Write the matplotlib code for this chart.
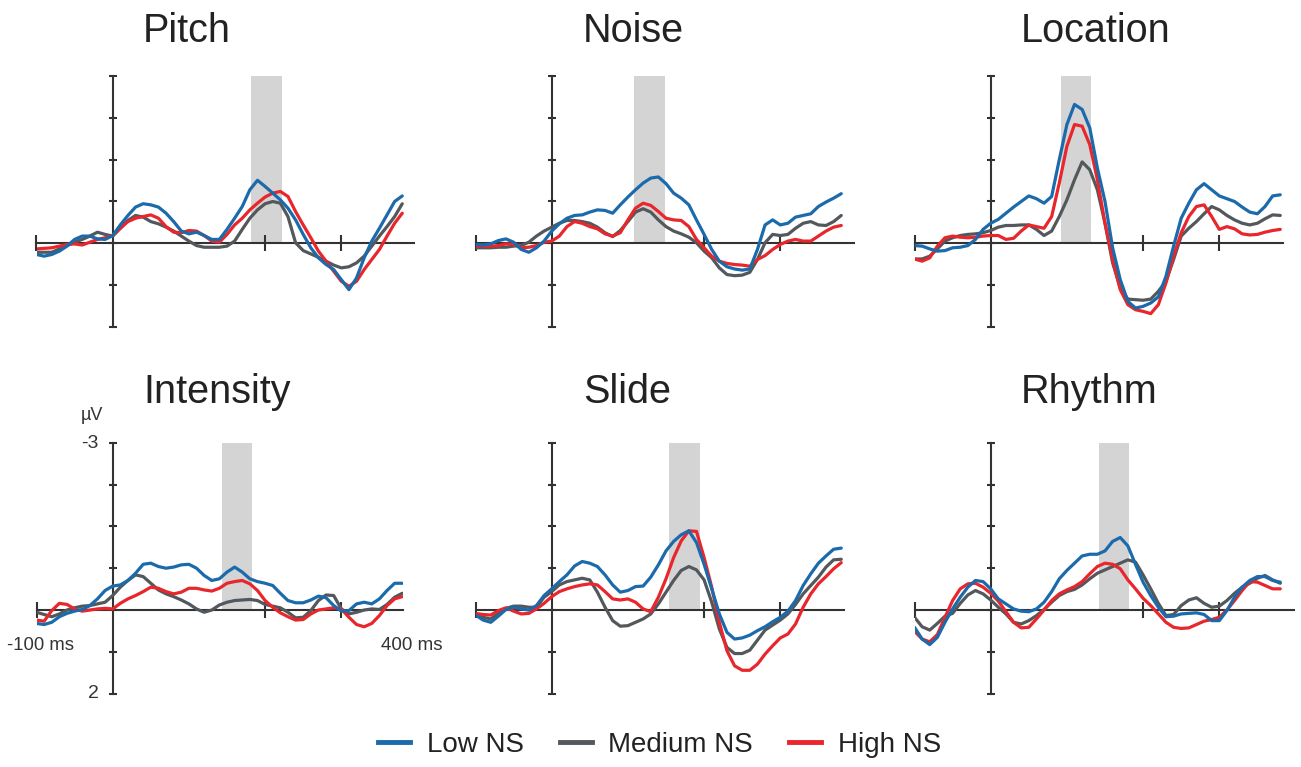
import matplotlib
matplotlib.use('Agg')
import matplotlib.pyplot as plt
from matplotlib.lines import Line2D

plt.rcParams['font.family'] = ['Liberation Sans', 'DejaVu Sans']

# ---------------- data ----------------
time_ms = list(range(-100, 381, 10))

conditions = ['Low NS', 'Medium NS', 'High NS']
panel_titles = ['Pitch', 'Noise', 'Location', 'Intensity', 'Slide', 'Rhythm']

# shaded analysis windows (ms)
windows = [(181, 222), (108, 149), (92, 132), (143, 183), (154, 194), (142, 182)]

# amplitudes in microvolts (negative plotted upward)
pitch_low = [0.20, 0.23, 0.20, 0.14, 0.05, -0.07, -0.13, -0.13, -0.08, -0.07,
             -0.14, -0.33, -0.50, -0.65, -0.71, -0.69, -0.65, -0.54, -0.39, -0.22,
             -0.17, -0.20, -0.14, -0.07, -0.07, -0.25, -0.45, -0.66, -0.96, -1.13,
             -1.02, -0.90, -0.78, -0.63, -0.42, -0.16, 0.08, 0.26, 0.38, 0.47,
             0.65, 0.83, 0.62, 0.26, -0.04, -0.27, -0.51, -0.75, -0.85]
pitch_med = [0.16, 0.16, 0.16, 0.10, 0.04, -0.02, -0.07, -0.13, -0.20, -0.16,
             -0.13, -0.27, -0.41, -0.50, -0.47, -0.39, -0.35, -0.29, -0.22, -0.13,
             -0.04, 0.04, 0.07, 0.07, 0.07, 0.05, -0.04, -0.25, -0.45, -0.60,
             -0.71, -0.75, -0.72, -0.48, -0.01, 0.13, 0.19, 0.25, 0.32, 0.39,
             0.44, 0.42, 0.35, 0.23, 0.05, -0.13, -0.30, -0.48, -0.71]
pitch_high = [0.10, 0.09, 0.08, 0.05, 0.02, 0.01, 0.03, -0.02, -0.07, -0.10,
              -0.14, -0.27, -0.39, -0.45, -0.48, -0.51, -0.45, -0.30, -0.20, -0.19,
              -0.23, -0.22, -0.14, -0.04, -0.02, -0.16, -0.33, -0.45, -0.60, -0.72,
              -0.83, -0.90, -0.93, -0.84, -0.57, -0.33, -0.10, 0.14, 0.32, 0.50,
              0.68, 0.77, 0.68, 0.47, 0.29, 0.11, -0.13, -0.36, -0.54]

noise_low = [0.02, 0.03, 0.01, -0.05, -0.08, -0.02, 0.11, 0.16, 0.08, -0.04,
             -0.22, -0.35, -0.45, -0.50, -0.51, -0.56, -0.60, -0.59, -0.54, -0.69,
             -0.83, -0.96, -1.08, -1.17, -1.19, -1.07, -0.90, -0.81, -0.69, -0.42,
             -0.16, 0.11, 0.32, 0.42, 0.46, 0.48, 0.46, 0.11, -0.33, -0.42,
             -0.33, -0.36, -0.47, -0.50, -0.53, -0.66, -0.74, -0.81, -0.89]
noise_med = [0.08, 0.08, 0.08, 0.07, 0.07, 0.05, 0.04, -0.02, -0.13, -0.22,
             -0.29, -0.36, -0.41, -0.41, -0.39, -0.36, -0.29, -0.19, -0.12, -0.23,
             -0.39, -0.56, -0.62, -0.56, -0.42, -0.30, -0.22, -0.17, -0.11, -0.01,
             0.14, 0.26, 0.44, 0.56, 0.58, 0.57, 0.52, 0.29, -0.01, -0.16,
             -0.14, -0.16, -0.27, -0.36, -0.39, -0.33, -0.32, -0.39, -0.50]
noise_high = [0.05, 0.05, 0.05, 0.04, 0.01, 0.02, 0.08, 0.07, 0.04, -0.02,
              -0.04, -0.13, -0.30, -0.39, -0.36, -0.30, -0.26, -0.17, -0.13, -0.19,
              -0.42, -0.63, -0.72, -0.68, -0.57, -0.45, -0.42, -0.41, -0.30, -0.07,
              0.08, 0.23, 0.32, 0.36, 0.38, 0.39, 0.41, 0.29, 0.22, 0.11,
              0.02, -0.04, -0.07, -0.04, -0.04, -0.13, -0.22, -0.29, -0.32]

location_low = [0.04, 0.05, 0.10, 0.14, 0.13, 0.08, 0.07, 0.04, -0.07, -0.25,
                -0.36, -0.43, -0.54, -0.65, -0.75, -0.85, -0.80, -0.72, -0.84, -1.50,
                -2.13, -2.49, -2.40, -2.07, -1.35, -0.75, 0.08, 0.65, 1.04, 1.16,
                1.13, 1.07, 0.96, 0.59, 0.05, -0.45, -0.72, -0.96, -1.07, -0.96,
                -0.85, -0.80, -0.75, -0.65, -0.56, -0.53, -0.66, -0.85, -0.87]
location_med = [0.28, 0.28, 0.23, 0.10, -0.04, -0.10, -0.14, -0.16, -0.17, -0.19,
                -0.23, -0.29, -0.32, -0.32, -0.33, -0.33, -0.25, -0.14, -0.22, -0.48,
                -0.78, -1.14, -1.46, -1.32, -0.96, -0.36, 0.35, 0.80, 1.00, 1.01,
                1.02, 1.00, 0.86, 0.68, 0.29, -0.13, -0.27, -0.39, -0.53, -0.66,
                -0.60, -0.50, -0.42, -0.36, -0.33, -0.36, -0.44, -0.51, -0.50]
location_high = [0.28, 0.32, 0.26, 0.05, -0.10, -0.13, -0.11, -0.10, -0.11, -0.13,
                 -0.14, -0.14, -0.07, -0.09, -0.22, -0.33, -0.30, -0.27, -0.48, -1.08,
                 -1.74, -2.13, -2.10, -1.77, -1.14, -0.36, 0.29, 0.83, 1.10, 1.19,
                 1.22, 1.26, 1.10, 0.71, 0.23, -0.19, -0.48, -0.66, -0.69, -0.48,
                 -0.25, -0.30, -0.26, -0.17, -0.15, -0.16, -0.20, -0.23, -0.25]

intensity_low = [0.24, 0.26, 0.22, 0.12, 0.06, 0.02, -0.01, -0.08, -0.20, -0.35,
                 -0.43, -0.45, -0.53, -0.66, -0.82, -0.84, -0.78, -0.75, -0.77, -0.81,
                 -0.82, -0.75, -0.62, -0.53, -0.56, -0.68, -0.77, -0.68, -0.56, -0.51,
                 -0.48, -0.44, -0.30, -0.17, -0.13, -0.13, -0.18, -0.25, -0.22, -0.08,
                 0.02, 0.01, -0.11, -0.14, -0.11, -0.20, -0.35, -0.48, -0.48]
intensity_med = [0.04, 0.08, 0.12, 0.07, 0.00, -0.04, -0.07, -0.08, -0.11, -0.14,
                 -0.26, -0.41, -0.53, -0.63, -0.60, -0.48, -0.36, -0.29, -0.24, -0.18,
                 -0.11, -0.02, 0.04, 0.00, -0.09, -0.14, -0.17, -0.18, -0.19, -0.17,
                 -0.10, -0.07, -0.04, 0.04, 0.14, 0.13, 0.01, -0.17, -0.27, -0.26,
                 -0.02, 0.07, 0.04, 0.00, -0.02, -0.01, -0.10, -0.23, -0.30]
intensity_high = [0.18, 0.20, 0.01, -0.12, -0.10, -0.02, 0.02, 0.00, -0.02, -0.03,
                  -0.02, -0.12, -0.20, -0.26, -0.33, -0.41, -0.39, -0.33, -0.29, -0.32,
                  -0.39, -0.39, -0.36, -0.34, -0.39, -0.48, -0.51, -0.53, -0.47, -0.35,
                  -0.17, -0.05, 0.05, 0.12, 0.18, 0.17, 0.07, 0.00, -0.02, -0.04,
                  -0.02, 0.13, 0.26, 0.30, 0.24, 0.10, -0.08, -0.20, -0.24]

slide_low = [0.09, 0.18, 0.22, 0.11, -0.01, -0.05, -0.02, 0.00, -0.08, -0.26,
             -0.38, -0.51, -0.63, -0.79, -0.87, -0.84, -0.78, -0.63, -0.45, -0.32,
             -0.35, -0.42, -0.43, -0.59, -0.81, -1.06, -1.23, -1.35, -1.42, -1.21,
             -0.82, -0.38, 0.07, 0.40, 0.52, 0.50, 0.45, 0.37, 0.30, 0.21,
             0.13, 0.02, -0.17, -0.44, -0.65, -0.84, -0.97, -1.09, -1.11]
slide_med = [0.10, 0.13, 0.16, 0.06, -0.03, -0.07, -0.07, -0.05, -0.05, -0.23,
             -0.33, -0.45, -0.51, -0.54, -0.57, -0.54, -0.32, -0.05, 0.19, 0.29,
             0.28, 0.22, 0.16, 0.07, -0.11, -0.32, -0.53, -0.71, -0.78, -0.72,
             -0.54, -0.14, 0.34, 0.67, 0.78, 0.78, 0.72, 0.54, 0.36, 0.27,
             0.18, 0.07, -0.10, -0.29, -0.44, -0.59, -0.77, -0.90, -0.91]
slide_high = [0.06, 0.08, 0.09, 0.01, -0.04, 0.02, 0.07, 0.06, -0.02, -0.12,
              -0.24, -0.33, -0.38, -0.42, -0.45, -0.47, -0.45, -0.33, -0.20, -0.18,
              -0.20, -0.14, -0.02, 0.03, -0.23, -0.56, -0.94, -1.24, -1.42, -1.41,
              -0.94, -0.41, 0.22, 0.73, 1.00, 1.08, 1.08, 0.97, 0.79, 0.64,
              0.50, 0.43, 0.25, -0.05, -0.29, -0.47, -0.60, -0.74, -0.85]

rhythm_low = [0.31, 0.52, 0.62, 0.49, 0.22, -0.02, -0.23, -0.41, -0.53, -0.51,
              -0.38, -0.20, -0.11, -0.02, 0.02, 0.03, -0.02, -0.14, -0.33, -0.56,
              -0.71, -0.84, -0.97, -1.00, -1.00, -1.06, -1.23, -1.30, -1.15, -0.82,
              -0.50, -0.26, -0.05, 0.12, 0.11, 0.07, 0.06, 0.05, 0.08, 0.19,
              0.19, 0.01, -0.23, -0.41, -0.53, -0.60, -0.60, -0.53, -0.50]
rhythm_med = [0.13, 0.30, 0.36, 0.24, 0.11, 0.06, -0.12, -0.27, -0.35, -0.29,
              -0.18, -0.05, 0.07, 0.22, 0.25, 0.19, 0.10, -0.01, -0.14, -0.26,
              -0.33, -0.37, -0.45, -0.56, -0.66, -0.72, -0.78, -0.84, -0.90, -0.86,
              -0.63, -0.38, -0.12, 0.10, 0.08, -0.08, -0.18, -0.22, -0.12, -0.05,
              -0.07, -0.17, -0.30, -0.41, -0.48, -0.57, -0.62, -0.54, -0.48]
rhythm_high = [0.38, 0.52, 0.57, 0.44, 0.13, -0.17, -0.38, -0.47, -0.48, -0.41,
               -0.30, -0.16, 0.03, 0.22, 0.32, 0.31, 0.16, 0.00, -0.17, -0.29,
               -0.36, -0.42, -0.51, -0.65, -0.78, -0.84, -0.82, -0.74, -0.54, -0.38,
               -0.21, -0.08, 0.07, 0.22, 0.31, 0.33, 0.32, 0.26, 0.20, 0.17,
               0.13, 0.00, -0.17, -0.35, -0.51, -0.50, -0.44, -0.38, -0.38]

panel_series = [
    (pitch_low, pitch_med, pitch_high),
    (noise_low, noise_med, noise_high),
    (location_low, location_med, location_high),
    (intensity_low, intensity_med, intensity_high),
    (slide_low, slide_med, slide_high),
    (rhythm_low, rhythm_med, rhythm_high),
]

ytick_vals = [-3, -2.25, -1.5, -0.75, 0, 0.75, 1.5]
xtick_vals = [-100, 200, 300]

# ---------------- style / layout ----------------
colors = ['#1b6aab', '#53585c', '#e8262b']
draw_order = [1, 2, 0]
axis_color = '#333333'
band_color = '#d4d4d4'

W, H = 1301, 767
fig = plt.figure(figsize=(W / 100, H / 100), dpi=100)

px_per_ms = 0.762
zero_x_px = [112.7, 551.7, 990.7]
row_top_px = [76.0, 442.7]
row_h_px = 251.0
xmax_ms = [396, 397, 383, 381, 383, 398]
title_x_px = [143, 583, 1021]
title_base_px = [42, 403]

for i in range(6):
    r, c = divmod(i, 3)
    left = zero_x_px[c] - 100 * px_per_ms
    width = (xmax_ms[i] + 100) * px_per_ms
    top = row_top_px[r]
    ax = fig.add_axes([left / W, 1 - (top + row_h_px) / H, width / W, row_h_px / H])
    ax.set_xlim(-100, xmax_ms[i])
    ax.set_ylim(1.5, -3)

    w0, w1 = windows[i]
    ax.fill_between([w0, w1], -3, 0, color=band_color, lw=0, zorder=0)

    for k in draw_order:
        ax.plot(time_ms, panel_series[i][k], color=colors[k], lw=2.3,
                solid_capstyle='round', solid_joinstyle='round', zorder=3)

    for s in ['top', 'right']:
        ax.spines[s].set_visible(False)
    ax.spines['left'].set_position(('data', 0))
    ax.spines['bottom'].set_position(('data', 0))
    for s in ['left', 'bottom']:
        ax.spines[s].set_color(axis_color)
        ax.spines[s].set_linewidth(1.5)
        ax.spines[s].set_zorder(2)
    ax.set_yticks(ytick_vals)
    ax.set_yticklabels([])
    ax.set_xticks(xtick_vals)
    ax.set_xticklabels([])
    ax.tick_params(axis='y', direction='inout', length=6, width=1.5, color=axis_color)
    ax.tick_params(axis='x', direction='inout', length=11, width=1.5, color=axis_color)
    ax.patch.set_visible(False)

    fig.text(title_x_px[c] / W, 1 - title_base_px[r] / H, panel_titles[i],
             fontsize=28.5, color='#222222', ha='left', va='baseline')

# axis annotations (Intensity panel)
lab_color = '#333333'
fig.text(99 / W, 1 - 443 / H, '-3', fontsize=14, color=lab_color, ha='right', va='center')
fig.text(99 / W, 1 - 694 / H, '2', fontsize=14, color=lab_color, ha='right', va='center')
fig.text(92 / W, 1 - 416 / H, 'µV', fontsize=13, color=lab_color, ha='center', va='center')
fig.text(40.5 / W, 1 - 645 / H, '-100 ms', fontsize=13.3, color=lab_color, ha='center', va='center')
fig.text(412 / W, 1 - 645 / H, '400 ms', fontsize=13.5, color=lab_color, ha='center', va='center')

# legend
handles = [Line2D([0], [0], color=colors[k], lw=3.5) for k in range(3)]
fig.legend(handles, conditions, loc='center', bbox_to_anchor=(659.5 / W, 1 - 745 / H),
           ncol=3, frameon=False, fontsize=20, handlelength=1.15, handletextpad=0.6,
           columnspacing=1.3, labelcolor='#222222')

fig.savefig('out.png', dpi=100)
